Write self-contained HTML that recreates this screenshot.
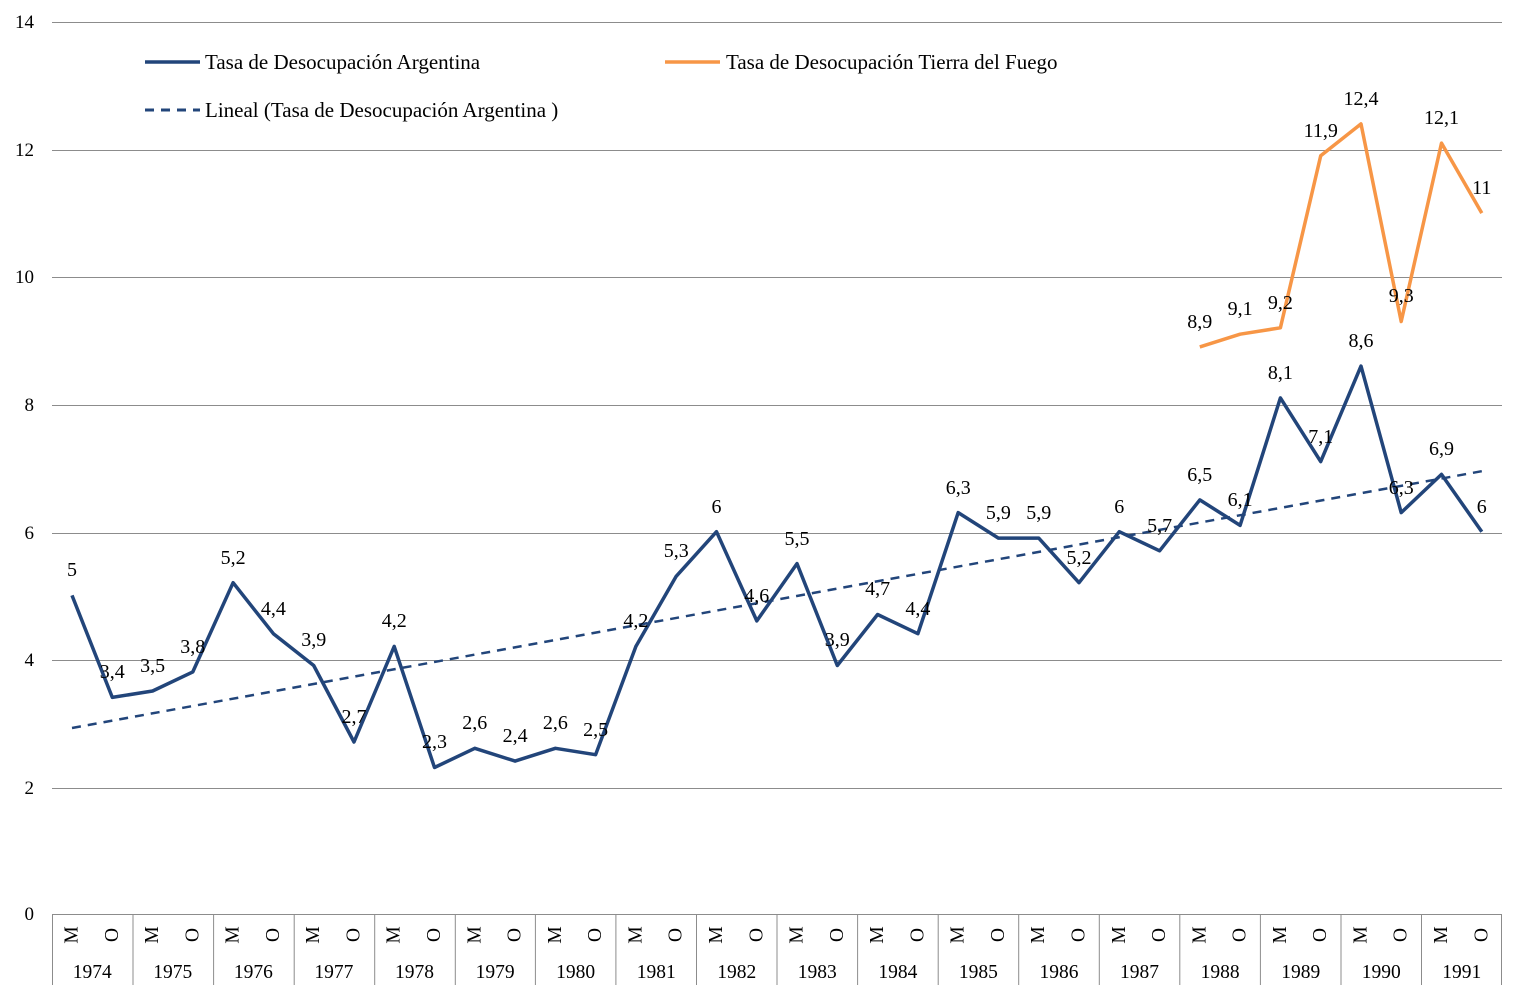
<!DOCTYPE html>
<html><head><meta charset="utf-8"><style>
html,body{margin:0;padding:0;background:#fff;}
svg{display:block;font-family:"Liberation Serif",serif;}
</style></head><body>
<svg width="1525" height="995" viewBox="0 0 1525 995" xmlns="http://www.w3.org/2000/svg">
<g stroke="#8c8c8c" stroke-width="1">
<line x1="52" y1="22.5" x2="1502" y2="22.5"/>
<line x1="52" y1="150.5" x2="1502" y2="150.5"/>
<line x1="52" y1="277.5" x2="1502" y2="277.5"/>
<line x1="52" y1="405.5" x2="1502" y2="405.5"/>
<line x1="52" y1="533.5" x2="1502" y2="533.5"/>
<line x1="52" y1="660.5" x2="1502" y2="660.5"/>
<line x1="52" y1="788.5" x2="1502" y2="788.5"/>
<line x1="52" y1="914.5" x2="1502" y2="914.5"/>
<line x1="52.5" y1="914" x2="52.5" y2="985"/><line x1="133" y1="914" x2="133" y2="985"/><line x1="213.6" y1="914" x2="213.6" y2="985"/><line x1="294.2" y1="914" x2="294.2" y2="985"/><line x1="374.7" y1="914" x2="374.7" y2="985"/><line x1="455.3" y1="914" x2="455.3" y2="985"/><line x1="535.4" y1="914" x2="535.4" y2="985"/><line x1="615.9" y1="914" x2="615.9" y2="985"/><line x1="696.5" y1="914" x2="696.5" y2="985"/><line x1="777" y1="914" x2="777" y2="985"/><line x1="857.6" y1="914" x2="857.6" y2="985"/><line x1="938.2" y1="914" x2="938.2" y2="985"/><line x1="1018.7" y1="914" x2="1018.7" y2="985"/><line x1="1099.3" y1="914" x2="1099.3" y2="985"/><line x1="1179.8" y1="914" x2="1179.8" y2="985"/><line x1="1260.4" y1="914" x2="1260.4" y2="985"/><line x1="1341" y1="914" x2="1341" y2="985"/><line x1="1421.5" y1="914" x2="1421.5" y2="985"/><line x1="1501.5" y1="914" x2="1501.5" y2="985"/>
</g>
<g font-size="19" fill="#000" text-anchor="end">
<text x="34" y="28">14</text><text x="34" y="156">12</text><text x="34" y="283">10</text><text x="34" y="411">8</text><text x="34" y="539">6</text><text x="34" y="666">4</text><text x="34" y="794">2</text><text x="34" y="920">0</text>
</g>
<g font-size="19.5" fill="#000" text-anchor="middle">
<text x="92.3" y="978">1974</text><text x="172.8" y="978">1975</text><text x="253.4" y="978">1976</text><text x="333.9" y="978">1977</text><text x="414.5" y="978">1978</text><text x="495.1" y="978">1979</text><text x="575.6" y="978">1980</text><text x="656.2" y="978">1981</text><text x="736.7" y="978">1982</text><text x="817.3" y="978">1983</text><text x="897.9" y="978">1984</text><text x="978.4" y="978">1985</text><text x="1059" y="978">1986</text><text x="1139.5" y="978">1987</text><text x="1220.1" y="978">1988</text><text x="1300.7" y="978">1989</text><text x="1381.2" y="978">1990</text><text x="1461.8" y="978">1991</text>
</g>
<g font-size="19.5" fill="#000" text-anchor="middle" dominant-baseline="central">
<text transform="translate(72,935) rotate(-90)">M</text><text transform="translate(112.3,935) rotate(-90)">O</text>
<text transform="translate(152.6,935) rotate(-90)">M</text><text transform="translate(192.8,935) rotate(-90)">O</text>
<text transform="translate(233.1,935) rotate(-90)">M</text><text transform="translate(273.4,935) rotate(-90)">O</text>
<text transform="translate(313.7,935) rotate(-90)">M</text><text transform="translate(354,935) rotate(-90)">O</text>
<text transform="translate(394.2,935) rotate(-90)">M</text><text transform="translate(434.5,935) rotate(-90)">O</text>
<text transform="translate(474.8,935) rotate(-90)">M</text><text transform="translate(515.1,935) rotate(-90)">O</text>
<text transform="translate(555.4,935) rotate(-90)">M</text><text transform="translate(595.6,935) rotate(-90)">O</text>
<text transform="translate(635.9,935) rotate(-90)">M</text><text transform="translate(676.2,935) rotate(-90)">O</text>
<text transform="translate(716.5,935) rotate(-90)">M</text><text transform="translate(756.8,935) rotate(-90)">O</text>
<text transform="translate(797,935) rotate(-90)">M</text><text transform="translate(837.3,935) rotate(-90)">O</text>
<text transform="translate(877.6,935) rotate(-90)">M</text><text transform="translate(917.9,935) rotate(-90)">O</text>
<text transform="translate(958.2,935) rotate(-90)">M</text><text transform="translate(998.4,935) rotate(-90)">O</text>
<text transform="translate(1038.7,935) rotate(-90)">M</text><text transform="translate(1079,935) rotate(-90)">O</text>
<text transform="translate(1119.3,935) rotate(-90)">M</text><text transform="translate(1159.6,935) rotate(-90)">O</text>
<text transform="translate(1199.8,935) rotate(-90)">M</text><text transform="translate(1240.1,935) rotate(-90)">O</text>
<text transform="translate(1280.4,935) rotate(-90)">M</text><text transform="translate(1320.7,935) rotate(-90)">O</text>
<text transform="translate(1361,935) rotate(-90)">M</text><text transform="translate(1401.2,935) rotate(-90)">O</text>
<text transform="translate(1441.5,935) rotate(-90)">M</text><text transform="translate(1481.8,935) rotate(-90)">O</text>
</g>
<line x1="72" y1="728" x2="1481.8" y2="471.2" stroke="#22457A" stroke-width="2.5" stroke-dasharray="9,7"/>
<polyline fill="none" stroke="#22457A" stroke-width="3.5" stroke-linejoin="round" points="72,595.4 112.3,697.4 152.6,691 192.8,671.9 233.1,582.7 273.4,633.7 313.7,665.5 354,742 394.2,646.4 434.5,767.5 474.8,748.3 515.1,761.1 555.4,748.3 595.6,754.7 635.9,646.4 676.2,576.3 716.5,531.7 756.8,620.9 797,563.6 837.3,665.5 877.6,614.5 917.9,633.7 958.2,512.6 998.4,538.1 1038.7,538.1 1079,582.7 1119.3,531.7 1159.6,550.8 1199.8,499.9 1240.1,525.4 1280.4,397.9 1320.7,461.6 1361,366.1 1401.2,512.6 1441.5,474.4 1481.8,531.7"/>
<polyline fill="none" stroke="#F79646" stroke-width="3.5" stroke-linejoin="round" points="1199.8,346.9 1240.1,334.2 1280.4,327.8 1320.7,155.8 1361,123.9 1401.2,321.5 1441.5,143.1 1481.8,213.1"/>
<g font-size="20" fill="#000" text-anchor="middle">
<text x="72" y="576">5</text><text x="112.3" y="678">3,4</text><text x="152.6" y="672">3,5</text><text x="192.8" y="653">3,8</text><text x="233.1" y="564">5,2</text><text x="273.4" y="615">4,4</text><text x="313.7" y="646">3,9</text><text x="354" y="723">2,7</text><text x="394.2" y="627">4,2</text><text x="434.5" y="748">2,3</text><text x="474.8" y="729">2,6</text><text x="515.1" y="742">2,4</text><text x="555.4" y="729">2,6</text><text x="595.6" y="736">2,5</text><text x="635.9" y="627">4,2</text><text x="676.2" y="557">5,3</text><text x="716.5" y="513">6</text><text x="756.8" y="602">4,6</text><text x="797" y="545">5,5</text><text x="837.3" y="646">3,9</text><text x="877.6" y="595">4,7</text><text x="917.9" y="615">4,4</text><text x="958.2" y="494">6,3</text><text x="998.4" y="519">5,9</text><text x="1038.7" y="519">5,9</text><text x="1079" y="564">5,2</text><text x="1119.3" y="513">6</text><text x="1159.6" y="532">5,7</text><text x="1199.8" y="481">6,5</text><text x="1240.1" y="506">6,1</text><text x="1280.4" y="379">8,1</text><text x="1320.7" y="443">7,1</text><text x="1361" y="347">8,6</text><text x="1401.2" y="494">6,3</text><text x="1441.5" y="455">6,9</text><text x="1481.8" y="513">6</text>
<text x="1199.8" y="328">8,9</text><text x="1240.1" y="315">9,1</text><text x="1280.4" y="309">9,2</text><text x="1320.7" y="137">11,9</text><text x="1361" y="105">12,4</text><text x="1401.2" y="302">9,3</text><text x="1441.5" y="124">12,1</text><text x="1481.8" y="194">11</text>
</g>
<line x1="145" y1="62" x2="200" y2="62" stroke="#22457A" stroke-width="3.5"/>
<text x="205" y="69" font-size="21">Tasa de Desocupación Argentina</text>
<line x1="665" y1="62" x2="720" y2="62" stroke="#F79646" stroke-width="3.5"/>
<text x="726" y="69" font-size="21">Tasa de Desocupación Tierra del Fuego</text>
<line x1="145" y1="110" x2="200" y2="110" stroke="#22457A" stroke-width="3" stroke-dasharray="9,7"/>
<text x="205" y="117" font-size="21">Lineal (Tasa de Desocupación Argentina )</text>
</svg>
</body></html>
